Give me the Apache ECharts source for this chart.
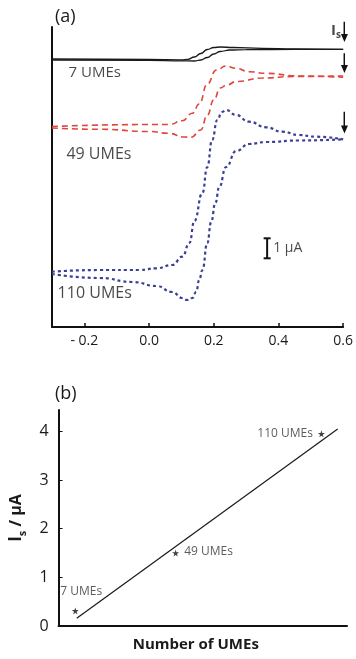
<!DOCTYPE html>
<html><head><meta charset="utf-8">
<script src="https://cdn.jsdelivr.net/npm/echarts@6/dist/echarts.min.js"></script>
<style>html,body{margin:0;padding:0;background:#fff}#c{width:356px;height:659px}</style>
</head><body><div id="c"></div>
<script>
// ---------- Panel (a): cyclic voltammograms (potential / V, current offset / µA) ----------
const potentialTicks = [-0.2, 0.0, 0.2, 0.4, 0.6];

const ume7AE = [-0.3, 0.0, 0.1, 0.12, 0.14, 0.16, 0.18, 0.2, 0.22, 0.26, 0.35, 0.45, 0.6];
const ume7AI = [13.40, 13.375, 13.36, 13.385, 13.5, 13.675, 13.875, 13.975, 14.0, 13.975, 13.935, 13.91, 13.885];
const ume7BE = [-0.3, 0.0, 0.1, 0.14, 0.16, 0.18, 0.2, 0.22, 0.25, 0.3, 0.45, 0.6];
const ume7BI = [13.35, 13.335, 13.31, 13.3, 13.35, 13.475, 13.65, 13.775, 13.85, 13.87, 13.88, 13.885];

const ume49AE = [-0.3, 0.0, 0.063, 0.103, 0.134, 0.155, 0.18, 0.208, 0.238, 0.269, 0.309, 0.36, 0.463, 0.6];
const ume49AI = [10.025, 10.125, 10.125, 10.315, 10.685, 11.15, 12.15, 12.85, 13.05, 12.935, 12.765, 12.685, 12.55, 12.485];
const ume49BE = [-0.3, -0.15, 0.0, 0.06, 0.11, 0.13, 0.16, 0.18, 0.2, 0.22, 0.24, 0.27, 0.35, 0.45, 0.6];
const ume49BI = [9.95, 9.885, 9.775, 9.685, 9.5, 9.485, 9.85, 10.6, 11.35, 11.95, 12.1, 12.275, 12.45, 12.525, 12.55];

const ume110AE = [-0.3, -0.152, -0.029, 0.023, 0.072, 0.103, 0.125, 0.14, 0.165, 0.18, 0.195, 0.211, 0.225, 0.238, 0.269, 0.309, 0.362, 0.411, 0.463, 0.515, 0.6];
const ume110AI = [2.765, 2.85, 2.85, 2.935, 3.1, 3.515, 4.2, 5.3, 6.7, 8.0, 9.35, 10.35, 10.75, 10.85, 10.6, 10.265, 9.985, 9.765, 9.6, 9.515, 9.385];
const ume110BE = [-0.3, -0.152, -0.051, 0.023, 0.072, 0.103, 0.118, 0.134, 0.146, 0.155, 0.165, 0.18, 0.192, 0.205, 0.217, 0.238, 0.269, 0.309, 0.362, 0.463, 0.6];
const ume110BI = [2.65, 2.45, 2.25, 2.05, 1.75, 1.45, 1.35, 1.45, 1.765, 2.35, 2.85, 4.2, 5.25, 6.2, 7.0, 8.0, 8.8, 9.15, 9.25, 9.325, 9.385];

const curveLabels = ['7 UMEs', '49 UMEs', '110 UMEs'];

// ---------- Panel (b): steady-state current vs number of UMEs ----------
const umeCounts = [7, 49, 110];
const steadyCurrent = [0.31, 1.5, 3.95];
const fitX = [7.6, 116.8];
const fitY = [0.16, 4.05];
const currentTicks = [0, 1, 2, 3, 4];

const FONT = '"Open Sans", "DejaVu Sans", sans-serif';
const TXT = '#1a1a1a';
const zip = (a, b) => a.map((v, i) => [v, b[i]]);
const STAR = 'path://M50,0 L61,35 L98,35 L68,57 L79,91 L50,70 L21,91 L32,57 L2,35 L39,35 Z';

function cv(E, I, color, type, width) {
  return {
    type: 'line', xAxisIndex: 0, yAxisIndex: 0, data: zip(E, I),
    showSymbol: false, smooth: 0.5, smoothMonotone: 'x', silent: true,
    lineStyle: { color: color, width: width, type: type }
  };
}
function arrow(x, yFrom, yTo) {
  return {
    type: 'line', xAxisIndex: 0, yAxisIndex: 0, silent: true, clip: false,
    data: [{ value: [x, yFrom], symbol: 'none' },
           { value: [x, yTo], symbol: 'triangle', symbolSize: [7, 8], symbolRotate: 180 }],
    showSymbol: true, showAllSymbol: true,
    itemStyle: { color: '#111' }, lineStyle: { color: '#111', width: 1.8 }
  };
}

const chart = echarts.init(document.getElementById('c'), null, { renderer: 'canvas' });
chart.setOption({
  animation: false,
  backgroundColor: '#fff',
  title: [
    { text: '(a)', left: 50, top: 3, textStyle: { fontFamily: FONT, fontSize: 18, fontWeight: 'normal', color: TXT } },
    { text: '(b)', left: 50, top: 380, textStyle: { fontFamily: FONT, fontSize: 18, fontWeight: 'normal', color: TXT } }
  ],
  grid: [
    { left: 52, top: 27, width: 293, height: 300 },
    { left: 55, top: 410, width: 292, height: 216 }
  ],
  xAxis: [
    {
      gridIndex: 0, type: 'value', min: -0.3, max: 0.6,
      axisLine: { onZero: false, lineStyle: { color: '#111', width: 2 } },
      axisTick: { show: true, inside: true, length: 4, customValues: potentialTicks, lineStyle: { color: '#111', width: 1.5 } },
      axisLabel: {
        customValues: potentialTicks, fontFamily: FONT, fontSize: 14, color: TXT, margin: 7,
        formatter: v => v < 0 ? '- ' + Math.abs(v).toFixed(1) : v.toFixed(1)
      },
      splitLine: { show: false }
    },
    {
      gridIndex: 1, type: 'value', min: 0, max: 120.7,
      axisLine: { onZero: false, lineStyle: { color: '#111', width: 2 } },
      axisTick: { show: false }, axisLabel: { show: false }, splitLine: { show: false },
      name: 'Number of UMEs', nameLocation: 'middle', nameGap: 11,
      nameTextStyle: { fontFamily: FONT, fontSize: 15, fontWeight: 'bold', color: TXT, padding: [0, 14, 0, 0] }
    }
  ],
  yAxis: [
    {
      gridIndex: 0, type: 'value', min: 0, max: 15,
      axisLine: { show: true, onZero: false, lineStyle: { color: '#111', width: 2 } },
      axisTick: { show: false }, axisLabel: { show: false }, splitLine: { show: false }
    },
    {
      gridIndex: 1, type: 'value', min: 0, max: 4.44,
      axisLine: { show: true, onZero: false, lineStyle: { color: '#111', width: 2 } },
      axisTick: { show: true, inside: true, length: 4, customValues: currentTicks, lineStyle: { color: '#111', width: 1 } },
      axisLabel: { customValues: currentTicks, fontFamily: FONT, fontSize: 16, color: TXT, margin: 10 },
      splitLine: { show: false },
      name: '{I|I}{s|s}{r| / µA}', nameLocation: 'middle', nameGap: 26, nameRotate: 90,
      nameTextStyle: {
        fontFamily: FONT, fontSize: 16, fontWeight: 'bold', color: TXT,
        rich: {
          I: { fontFamily: FONT, fontSize: 17, fontWeight: 'bold', color: TXT, lineHeight: 24 },
          s: { fontFamily: FONT, fontSize: 11, fontWeight: 'bold', color: TXT, lineHeight: 14, verticalAlign: 'bottom' },
          r: { fontFamily: FONT, fontSize: 16, fontWeight: 'bold', color: TXT, lineHeight: 24 }
        }
      }
    }
  ],
  series: [
    cv(ume7AE, ume7AI, '#1a1a1a', 'solid', 1.3),
    cv(ume7BE, ume7BI, '#1a1a1a', 'solid', 1.3),
    cv(ume49AE, ume49AI, '#e0443c', [6, 4], 1.6),
    cv(ume49BE, ume49BI, '#e0443c', [6, 4], 1.6),
    cv(ume110AE, ume110AI, '#3c3f96', [3, 3], 2.2),
    cv(ume110BE, ume110BI, '#3c3f96', [3, 3], 2.2),
    // arrows marking Is
    arrow(0.604, 15.265, 14.45),
    arrow(0.604, 13.685, 12.9),
    arrow(0.604, 10.765, 9.88),
    // scale bar 1 µA
    {
      type: 'line', xAxisIndex: 0, yAxisIndex: 0, silent: true,
      data: [[0.365, 3.435], [0.365, 4.435]],
      symbol: 'rect', symbolSize: [7, 2], showSymbol: true,
      itemStyle: { color: '#111' }, lineStyle: { color: '#111', width: 2 }
    },
    // text annotations in panel (a)
    {
      type: 'scatter', xAxisIndex: 0, yAxisIndex: 0, symbolSize: 0, silent: true, clip: false,
      label: { show: true, position: 'inside', fontFamily: FONT, color: TXT, formatter: p => p.name },
      data: [
        { name: curveLabels[0], value: [-0.168, 12.7], label: { fontSize: 15 } },
        { name: curveLabels[1], value: [-0.155, 8.65], label: { fontSize: 16 } },
        { name: curveLabels[2], value: [-0.168, 1.7], label: { fontSize: 16 } },
        { name: '1 µA', value: [0.365, 3.935], label: { fontSize: 14, position: 'right', distance: 6 } },
        { name: 'Is', value: [0.578, 14.8], label: { formatter: '{a|I}{b|s}', rich: {
            a: { fontFamily: FONT, fontSize: 15, fontWeight: 'bold', color: TXT, lineHeight: 18 },
            b: { fontFamily: FONT, fontSize: 10, fontWeight: 'bold', color: TXT, lineHeight: 12, verticalAlign: 'bottom' } } } }
      ]
    },
    // panel (b): fit line
    {
      type: 'line', xAxisIndex: 1, yAxisIndex: 1, data: zip(fitX, fitY), showSymbol: false, silent: true,
      lineStyle: { color: '#1a1a1a', width: 1.2 }
    },
    // panel (b): data points
    {
      type: 'scatter', xAxisIndex: 1, yAxisIndex: 1, symbol: STAR, symbolSize: 7, silent: true,
      itemStyle: { color: '#111' },
      label: { show: true, fontFamily: FONT, fontSize: 12, color: '#333', formatter: p => p.name },
      data: [
        { name: curveLabels[0], value: [umeCounts[0], steadyCurrent[0]], label: { position: 'top', offset: [6, -5] } },
        { name: curveLabels[1], value: [umeCounts[1], steadyCurrent[1]], label: { position: 'right', distance: 5, offset: [0, -1] } },
        { name: curveLabels[2], value: [umeCounts[2], steadyCurrent[2]], label: { position: 'left', distance: 5 } }
      ]
    }
  ]
});
</script>
</body></html>
